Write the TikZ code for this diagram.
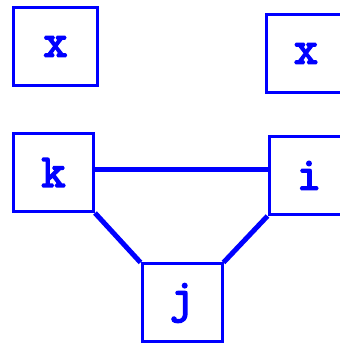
\documentclass[tikz,border=0pt]{standalone}
\usepackage{tikz}
\usepackage{fontspec}
\newfontfamily\boxfont[FakeBold=3.5]{Latin Modern Mono}
\definecolor{boxBlue}{HTML}{0000FF}
\tikzset{
  varbox/.style={draw=boxBlue, line width=3pt, minimum width=80pt, minimum height=78pt,
    inner sep=0pt, text=boxBlue, font=\fontsize{47}{47}\selectfont\boxfont},
  link/.style={draw=boxBlue, line width=5pt}
}

\begin{document}
\begin{tikzpicture}[x=1pt,y=1pt]
  \useasboundingbox (0,0) rectangle (339,344);
  \node[varbox, minimum width=84pt] (xa) at (55.5,297.5) {x};
  \node[varbox] (xb) at (306,290.5) {x};
  \node[varbox] (k) at (53.5,171.5) {k};
  \node[varbox] (i) at (309,168.5) {i};
  \node[varbox] (j) at (182,41) {j};
  \draw[link] ([yshift=3pt]k.east) -- ([yshift=3pt]k.east -| i.west);
  \draw[link] (k.south east) -- (j.north west);
  \draw[link] (i.south west) -- (j.north east);
\end{tikzpicture}
\end{document}
